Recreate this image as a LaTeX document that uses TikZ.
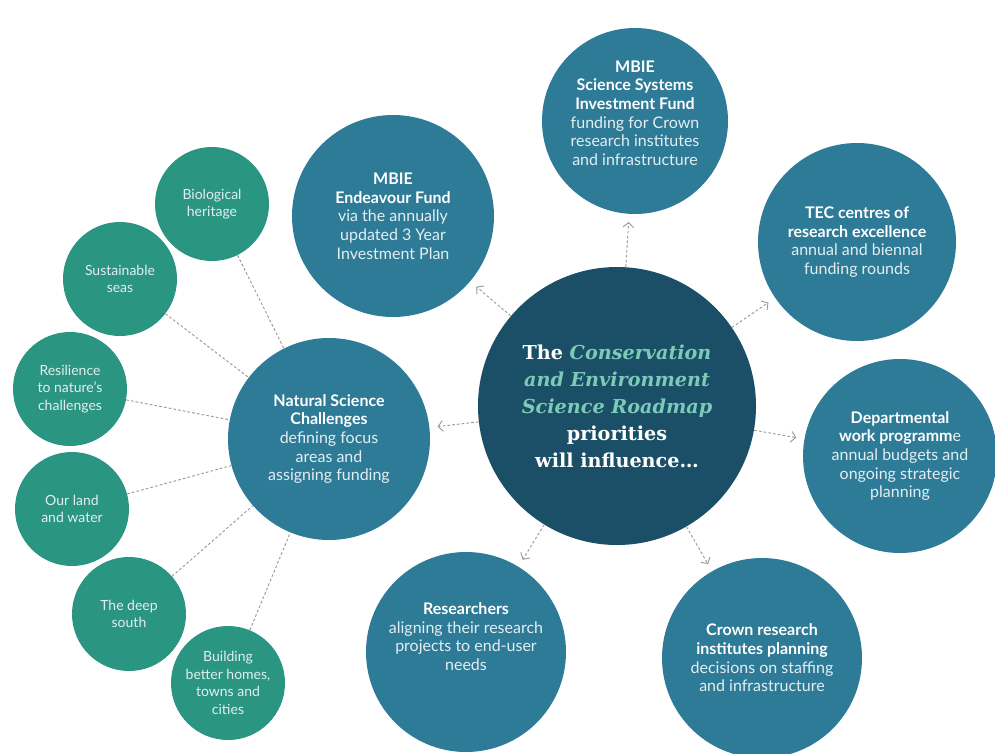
\documentclass[tikz,border=0pt]{standalone}
\usepackage{fontspec}
\setmainfont{Lato}
\newfontfamily\roadmapfont{DejaVu Serif}
\usetikzlibrary{arrows.meta}

\definecolor{coreteal}{HTML}{1B4F68}
\definecolor{fundblue}{HTML}{2E7B98}
\definecolor{challengegreen}{HTML}{2A9581}
\definecolor{roadmapaccent}{HTML}{7CCBB8}
\definecolor{paletext}{HTML}{E4EEF1}
\definecolor{linkgrey}{HTML}{9A9A9A}

\begin{document}
\begin{tikzpicture}[x=0.75pt,y=-0.75pt,
  disc/.style={circle, inner sep=0pt, align=center, minimum size={#1*1.5pt}},
  bluedisc/.style={disc=#1, fill=fundblue, text=paletext,
    font=\fontsize{12}{14}\selectfont},
  greendisc/.style={disc=57, fill=challengegreen, text=paletext,
    font=\fontsize{10.5}{13.2}\selectfont},
  coredisc/.style={disc=#1, fill=coreteal, text=white,
    font=\roadmapfont\bfseries\fontsize{14.4}{20.2}\selectfont},
  link/.style={draw=linkgrey, line width=0.7pt, dash pattern=on 2pt off 1.6pt},
  flow/.style={link, -{Straight Barb[length=3.5pt,width=8pt]}, shorten >=6pt}
]
\useasboundingbox (0,0) rectangle (995,753);
\clip (0,0) rectangle (995,753);
\fill[white] (0,0) rectangle (995,753);

% central roadmap disc
\node[coredisc=139] (core) at (617,406)
  {The \textcolor{roadmapaccent}{\itshape Conservation}\\
   \textcolor{roadmapaccent}{\itshape and Environment}\\
   \textcolor{roadmapaccent}{\itshape Science Roadmap}\\
   priorities\\
   will influence\dots};

% funding and planning discs
\node[bluedisc=101] (endeavour) at (393,216)
  {\textbf{\color{white}MBIE}\\\textbf{\color{white}Endeavour Fund}\\
   via the annually\\updated 3 Year\\Investment Plan};
\node[bluedisc=93, text depth=12pt] (ssif) at (635,121)
  {\textbf{\color{white}MBIE}\\\textbf{\color{white}Science Systems}\\
   \textbf{\color{white}Investment Fund}\\
   funding for Crown\\research institutes\\and infrastructure};
\node[bluedisc=99] (tec) at (857,242)
  {\textbf{\color{white}TEC centres of}\\\textbf{\color{white}research excellence}\\
   annual and biennal\\funding rounds};
\node[bluedisc=97] (dept) at (900,456)
  {\textbf{\color{white}Departmental}\\\textbf{\color{white}work programm}e\\
   annual budgets and\\ongoing strategic\\planning};
\node[bluedisc=100] (crown) at (762,658)
  {\textbf{\color{white}Crown research}\\\textbf{\color{white}institutes planning}\\
   decisions on staffing\\and infrastructure};
\node[bluedisc=100, text depth=23pt] (researchers) at (466,652)
  {\textbf{\color{white}Researchers}\\
   aligning their research\\projects to end-user\\needs};
\node[bluedisc=101] (nsc) at (329,439)
  {\textbf{\color{white}Natural Science}\\\textbf{\color{white}Challenges}\\
   defining focus\\areas and\\assigning funding};

% the national science challenges
\node[greendisc] (bio) at (212,204) {Biological\\heritage};
\node[greendisc] (seas) at (120,279) {Sustainable\\seas};
\node[greendisc] (resil) at (70,389) {Resilience\\to nature's\\challenges};
\node[greendisc] (land) at (72,509) {Our land\\and water};
\node[greendisc] (south) at (129,614) {The deep\\south};
\node[greendisc] (homes) at (228,683) {Building\\better homes,\\towns and\\cities};

% influence arrows out of the roadmap
\foreach \t in {endeavour, ssif, tec, dept, crown, researchers, nsc}
  \draw[flow] (core) -- (\t);

% challenge links
\foreach \g in {bio, seas, resil, land, south, homes}
  \draw[link] (\g) -- (nsc);
\end{tikzpicture}
\end{document}
